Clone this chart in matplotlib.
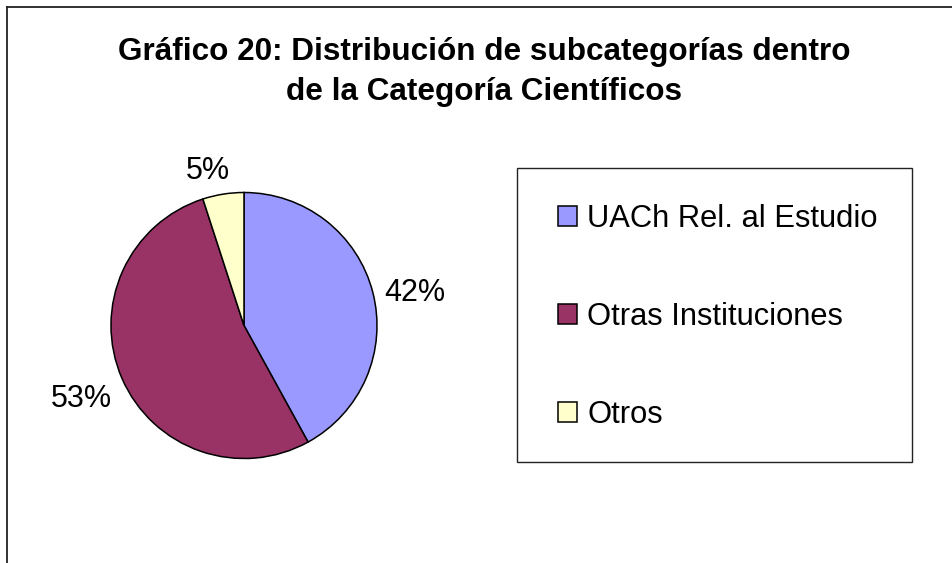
import matplotlib
matplotlib.use("Agg")
import numpy as np
import matplotlib.pyplot as plt
from matplotlib.patches import Rectangle
from matplotlib.lines import Line2D

# Data
categories = ["UACh Rel. al Estudio", "Otras Instituciones", "Otros"]
values = [42, 53, 5]
colors = ["#9999FF", "#993366", "#FFFFCC"]
title_lines = ["Gráfico 20: Distribución de subcategorías dentro",
               "de la Categoría Científicos"]

# label placement styling (radius in pie radii, angular nudge in degrees)
label_radius = [1.31, 1.33, 1.215]
label_nudge = [-2.4, 0.0, 3.9]

plt.rcParams['font.family'] = ['Liberation Sans', 'DejaVu Sans']

W, H = 953, 563
fig = plt.figure(figsize=(W / 100, H / 100), dpi=100)
fig.patch.set_facecolor("white")

def fx(px):
    return px / W

def fy(py):
    return 1 - py / H

# Outer chart frame (only left and top edges visible)
fig.add_artist(Line2D([fx(7), fx(7)], [fy(7), 0], transform=fig.transFigure,
                      color="#222222", lw=1.3))
fig.add_artist(Line2D([fx(7), 1], [fy(7), fy(7)], transform=fig.transFigure,
                      color="#222222", lw=1.3))

# Title
fig.text(fx(484.5), fy(60), title_lines[0], ha="center", va="baseline",
         fontsize=22.7, fontweight="bold")
fig.text(fx(484.5), fy(100), title_lines[1], ha="center", va="baseline",
         fontsize=22.7, fontweight="bold")

# Pie
cx, cy, r = 244, 325.5, 133
ax = fig.add_axes([fx(cx - r), fy(cy + r), 2 * r / W, 2 * r / H])
wedges, _, autotexts = ax.pie(values, colors=colors, startangle=90, counterclock=False,
                              wedgeprops=dict(edgecolor="black", linewidth=1.1),
                              autopct="%1.0f%%", pctdistance=1.3,
                              textprops=dict(fontsize=22))
for w, t, rad, nud in zip(wedges, autotexts, label_radius, label_nudge):
    mid = np.deg2rad((w.theta1 + w.theta2) / 2 + nud)
    t.set_position((rad * np.cos(mid), rad * np.sin(mid)))
    t.set_ha("center")
    t.set_va("center_baseline")
ax.set_xlim(-1, 1)
ax.set_ylim(-1, 1)
ax.set_aspect("auto")
ax.axis("off")

# Legend box
fig.add_artist(Rectangle((fx(517), fy(462)), (912 - 517) / W, (462 - 168) / H,
                         transform=fig.transFigure, fill=False,
                         edgecolor="#222222", lw=1.0))
fig.legend(wedges, categories, loc="center left",
           bbox_to_anchor=(fx(558), fy(317)), frameon=False,
           fontsize=22.2, borderpad=0, borderaxespad=0,
           handlelength=0.62, handleheight=0.62, handletextpad=0.33,
           labelspacing=2.2)

fig.savefig("out.png", dpi=100, facecolor="white")
